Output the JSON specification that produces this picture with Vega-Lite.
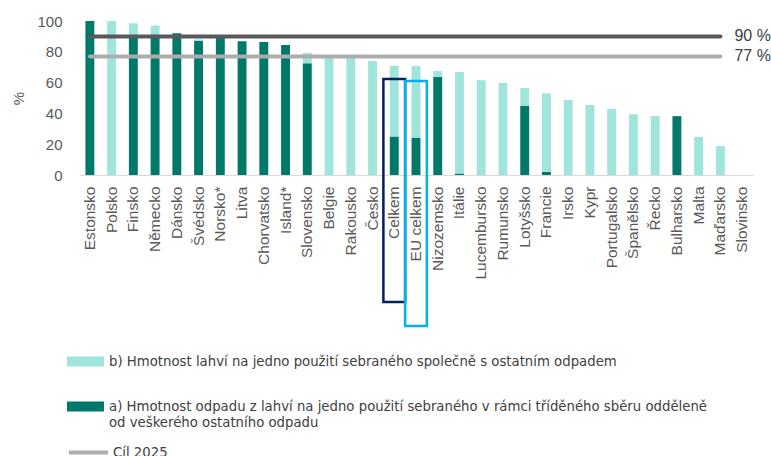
{
  "$schema": "https://vega.github.io/schema/vega-lite/v6.json",
  "width": 674,
  "height": 154,
  "autosize": {"type": "none"},
  "padding": {"left": 79, "top": 21, "right": 18, "bottom": 281},
  "background": "white",
  "config": {
    "view": {"stroke": null},
    "font": "Liberation Sans"
  },
  "resolve": {"axis": {"y": "independent"}},
  "datasets": {
    "podily": [
      {"zeme": "Estonsko", "a": 100, "b": 0},
      {"zeme": "Polsko", "a": 0, "b": 100},
      {"zeme": "Finsko", "a": 90, "b": 8.5},
      {"zeme": "Německo", "a": 90, "b": 7},
      {"zeme": "Dánsko", "a": 92, "b": 0},
      {"zeme": "Švédsko", "a": 87, "b": 1},
      {"zeme": "Norsko*", "a": 89.5, "b": 0},
      {"zeme": "Litva", "a": 86.8, "b": 0},
      {"zeme": "Chorvatsko", "a": 86.4, "b": 0},
      {"zeme": "Island*", "a": 84.4, "b": 0},
      {"zeme": "Slovensko", "a": 72.5, "b": 6.7},
      {"zeme": "Belgie", "a": 0, "b": 77.5},
      {"zeme": "Rakousko", "a": 0, "b": 77},
      {"zeme": "Česko", "a": 0, "b": 74},
      {"zeme": "Celkem", "a": 25, "b": 46},
      {"zeme": "EU celkem", "a": 24.3, "b": 46.5},
      {"zeme": "Nizozemsko", "a": 63.6, "b": 3.9},
      {"zeme": "Itálie", "a": 1, "b": 65.9},
      {"zeme": "Lucembursko", "a": 0, "b": 61.5},
      {"zeme": "Rumunsko", "a": 0, "b": 59.7},
      {"zeme": "Lotyšsko", "a": 44.8, "b": 11.7},
      {"zeme": "Francie", "a": 2, "b": 51},
      {"zeme": "Irsko", "a": 0, "b": 48.7},
      {"zeme": "Kypr", "a": 0, "b": 45.5},
      {"zeme": "Portugalsko", "a": 0, "b": 42.9},
      {"zeme": "Španělsko", "a": 0, "b": 39.4},
      {"zeme": "Řecko", "a": 0, "b": 38.3},
      {"zeme": "Bulharsko", "a": 38.2, "b": 0},
      {"zeme": "Malta", "a": 0, "b": 24.7},
      {"zeme": "Maďarsko", "a": 0, "b": 18.8},
      {"zeme": "Slovinsko", "a": 0, "b": 0}
    ],
    "cile": [
      {"cil": "Cíl 2029", "hodnota": 90, "popis": "90 %"},
      {"cil": "Cíl 2025", "hodnota": 77, "popis": "77 %"}
    ]
  },
  "layer": [
    {
      "data": {"name": "podily"},
      "transform": [{"fold": ["a", "b"], "as": ["typ", "podil"]}],
      "mark": {"type": "bar", "width": {"band": 0.41}},
      "encoding": {
        "x": {
          "field": "zeme",
          "type": "nominal",
          "sort": null,
          "scale": {
            "domain": ["Estonsko", "Polsko", "Finsko", "Německo", "Dánsko", "Švédsko", "Norsko*", "Litva", "Chorvatsko", "Island*", "Slovensko", "Belgie", "Rakousko", "Česko", "Celkem", "EU celkem", "Nizozemsko", "Itálie", "Lucembursko", "Rumunsko", "Lotyšsko", "Francie", "Irsko", "Kypr", "Portugalsko", "Španělsko", "Řecko", "Bulharsko", "Malta", "Maďarsko", "Slovinsko"],
            "paddingInner": 0,
            "paddingOuter": 0
          },
          "axis": {
            "title": null,
            "labelAngle": 270,
            "labelAlign": "right",
            "labelBaseline": "middle",
            "labelFontSize": 15.5,
            "labelColor": "#595959",
            "labelPadding": 11,
            "ticks": false,
            "tickSize": 0,
            "domainColor": "#D9D9D9",
            "domainWidth": 1,
            "labelLimit": 200
          }
        },
        "y": {
          "field": "podil",
          "type": "quantitative",
          "stack": "zero",
          "scale": {"domain": [0, 100], "nice": false},
          "axis": {
            "title": "%",
            "titleFontSize": 15,
            "titleFontWeight": "normal",
            "titleColor": "#595959",
            "titlePadding": 10,
            "values": [0, 20, 40, 60, 80, 100],
            "labelOverlap": false,
            "labelFontSize": 15,
            "labelColor": "#595959",
            "labelPadding": 17,
            "ticks": false,
            "tickSize": 0,
            "domain": false,
            "grid": false
          }
        },
        "order": {"field": "typ", "sort": "ascending"},
        "fill": {
          "field": "typ",
          "type": "nominal",
          "scale": {"domain": ["b", "a"], "range": ["#A0E5DB", "#00796B"]},
          "legend": {
            "orient": "none",
            "legendX": -12,
            "legendY": 322,
            "title": null,
            "padding": 0,
            "direction": "vertical",
            "symbolType": "M-1,-0.27H1V0.27H-1Z",
            "symbolSize": 1369,
            "symbolStrokeWidth": 0,
            "labelFont": "DejaVu Sans Condensed, Liberation Sans",
            "labelFontSize": 14.75,
            "labelColor": "#404040",
            "labelLimit": 700,
            "labelOffset": 5,
            "rowPadding": 19,
            "encoding": {"labels": {"update": {"lineHeight": {"value": 20}}}},
            "labelExpr": "datum.label == 'a' ? ['a) Hmotnost odpadu z lahví na jedno použití sebraného v rámci tříděného sběru odděleně', 'od veškerého ostatního odpadu'] : 'b) Hmotnost lahví na jedno použití sebraného společně s ostatním odpadem'"
          }
        }
      }
    },
    {
      "data": {"name": "cile"},
      "mark": {"type": "rule", "strokeWidth": 4, "strokeCap": "round"},
      "encoding": {
        "x": {"datum": "Estonsko", "type": "nominal"},
        "x2": {"datum": "Maďarsko"},
        "y": {"field": "hodnota", "type": "quantitative", "axis": null},
        "stroke": {
          "field": "cil",
          "type": "nominal",
          "scale": {"domain": ["Cíl 2025", "Cíl 2029"], "range": ["#ADADAD", "#595959"]},
          "legend": {
            "orient": "none",
            "legendX": -12,
            "legendY": 410,
            "title": null,
            "padding": 0,
            "values": ["Cíl 2025"],
            "symbolType": "stroke",
            "symbolSize": 1521,
            "symbolStrokeWidth": 4,
            "labelFont": "DejaVu Sans Condensed, Liberation Sans",
            "labelFontSize": 14.75,
            "labelColor": "#404040",
            "labelOffset": 3
          }
        }
      }
    },
    {
      "data": {"name": "cile"},
      "mark": {"type": "text", "align": "left", "baseline": "middle", "dx": 14, "fontSize": 16, "color": "#404040"},
      "encoding": {
        "x": {"datum": "Maďarsko", "type": "nominal"},
        "y": {"field": "hodnota", "type": "quantitative", "axis": null},
        "text": {"field": "popis"}
      }
    },
    {
      "data": {"values": [{"zeme": "Celkem", "horni": 62.3, "dolni": -82.5}]},
      "mark": {"type": "rect", "filled": false, "color": "#002060", "strokeWidth": 2.5},
      "encoding": {
        "x": {"field": "zeme", "type": "nominal"},
        "y": {"field": "horni", "type": "quantitative", "axis": null},
        "y2": {"field": "dolni"}
      }
    },
    {
      "data": {"values": [{"zeme": "EU celkem", "horni": 61, "dolni": -98}]},
      "mark": {"type": "rect", "filled": false, "color": "#00B0F0", "strokeWidth": 2.5},
      "encoding": {
        "x": {"field": "zeme", "type": "nominal"},
        "y": {"field": "horni", "type": "quantitative", "axis": null},
        "y2": {"field": "dolni"}
      }
    }
  ]
}
